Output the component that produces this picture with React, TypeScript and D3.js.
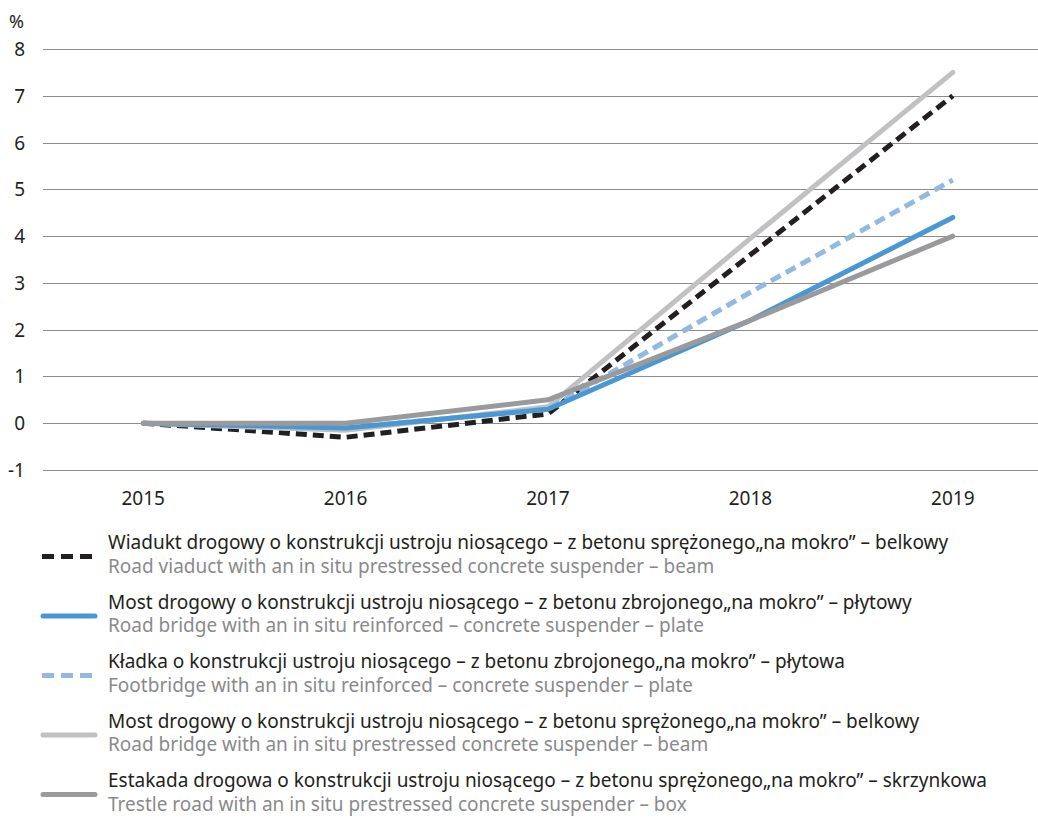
import React, { useRef, useEffect } from 'react'
import * as d3 from 'd3'

const years = ['2015', '2016', '2017', '2018', '2019']
const yTicks = [-1, 0, 1, 2, 3, 4, 5, 6, 7, 8]

const wiadukt = [0, -0.3, 0.2, 3.6, 7.0]
const mostZbrojony = [0, -0.1, 0.3, 2.2, 4.4]
const kladka = [0, -0.1, 0.3, 2.8, 5.2]
const mostSprezony = [0, -0.15, 0.35, 3.95, 7.5]
const estakada = [0, 0, 0.5, 2.2, 4.0]

const labelsPl = [
  'Wiadukt drogowy o konstrukcji ustroju niosącego – z betonu sprężonego„na mokro” – belkowy',
  'Most drogowy o konstrukcji ustroju niosącego – z betonu zbrojonego„na mokro” – płytowy',
  'Kładka o konstrukcji ustroju niosącego – z betonu zbrojonego„na mokro” – płytowa',
  'Most drogowy o konstrukcji ustroju niosącego – z betonu sprężonego„na mokro” – belkowy',
  'Estakada drogowa o konstrukcji ustroju niosącego – z betonu sprężonego„na mokro” – skrzynkowa',
]
const labelsEn = [
  'Road viaduct with an in situ prestressed concrete suspender – beam',
  'Road bridge with an in situ reinforced – concrete suspender – plate',
  'Footbridge with an in situ reinforced – concrete suspender – plate',
  'Road bridge with an in situ prestressed concrete suspender – beam',
  'Trestle road with an in situ prestressed concrete suspender – box',
]

const series = [
  { values: wiadukt, color: '#231f20', dash: '11,6' },
  { values: mostZbrojony, color: '#4a98d3', dash: null },
  { values: kladka, color: '#93b9e1', dash: '11,6' },
  { values: mostSprezony, color: '#c1c1c3', dash: null },
  { values: estakada, color: '#9a9a9c', dash: null },
]
const drawOrder = [0, 3, 2, 1, 4]

export default function App() {
  const svgRef = useRef<SVGSVGElement>(null)

  useEffect(() => {
    document.body.style.margin = '0'
    document.body.style.overflow = 'hidden'

    const w = 1038
    const h = 818
    const svg = d3.select(svgRef.current)
    svg.selectAll('*').remove()
    svg.attr('width', w).attr('height', h)
      .style('display', 'block')
      .style('background', '#fff')
      .style('font-family', '"Noto Sans", sans-serif')

    const x = d3.scaleBand().domain(years).range([42, 1054])
    const y = d3.scaleLinear().domain([-1, 8]).range([470, 49])

    // grid
    svg.append('g').selectAll('line')
      .data(yTicks)
      .join('line')
      .attr('x1', 43).attr('x2', w)
      .attr('y1', d => Math.round(y(d)) + 0.5).attr('y2', d => Math.round(y(d)) + 0.5)
      .attr('stroke', '#8c8c8c').attr('stroke-width', 1)

    // y labels
    svg.append('g').selectAll('text')
      .data(yTicks)
      .join('text')
      .attr('x', 25).attr('y', d => y(d) + 7)
      .attr('text-anchor', 'end')
      .attr('font-size', 19)
      .attr('fill', '#231f20')
      .text(d => d)

    svg.append('text')
      .attr('x', 9).attr('y', 28)
      .attr('font-size', 18).attr('fill', '#231f20')
      .text('%')

    // x labels
    svg.append('g').selectAll('text')
      .data(years)
      .join('text')
      .attr('x', d => x(d)! + x.bandwidth() / 2)
      .attr('y', 505)
      .attr('text-anchor', 'middle')
      .attr('font-size', 19)
      .attr('fill', '#231f20')
      .text(d => d)

    const line = d3.line<number>()
      .x((d, i) => x(years[i])! + x.bandwidth() / 2)
      .y(d => y(d))

    drawOrder.forEach(i => {
      const s = series[i]
      svg.append('path')
        .datum(s.values)
        .attr('d', line)
        .attr('fill', 'none')
        .attr('stroke', s.color)
        .attr('stroke-width', 5)
        .attr('stroke-linecap', s.dash ? 'butt' : 'round')
        .attr('stroke-linejoin', 'round')
        .attr('stroke-dasharray', s.dash)
    })

    // legend
    const lg = svg.append('g')
    series.forEach((s, i) => {
      const base = 549 + i * 59.5
      lg.append('line')
        .attr('x1', s.dash ? 42 : 43).attr('x2', s.dash ? 94 : 95)
        .attr('y1', base + 7.5).attr('y2', base + 7.5)
        .attr('stroke', s.color)
        .attr('stroke-width', 5)
        .attr('stroke-linecap', s.dash ? 'butt' : 'round')
        .attr('stroke-dasharray', s.dash ? '12,7' : null)
      lg.append('text')
        .attr('x', 108).attr('y', base)
        .attr('font-size', 19)
        .attr('fill', '#231f20')
        .text(labelsPl[i])
      lg.append('text')
        .attr('x', 108).attr('y', base + 23.5)
        .attr('font-size', 19)
        .attr('fill', '#8a8a8c')
        .text(labelsEn[i])
    })
  }, [])

  return (
    <div style={{ position: 'absolute', left: 0, top: 0 }}>
      <svg ref={svgRef}></svg>
    </div>
  )
}
